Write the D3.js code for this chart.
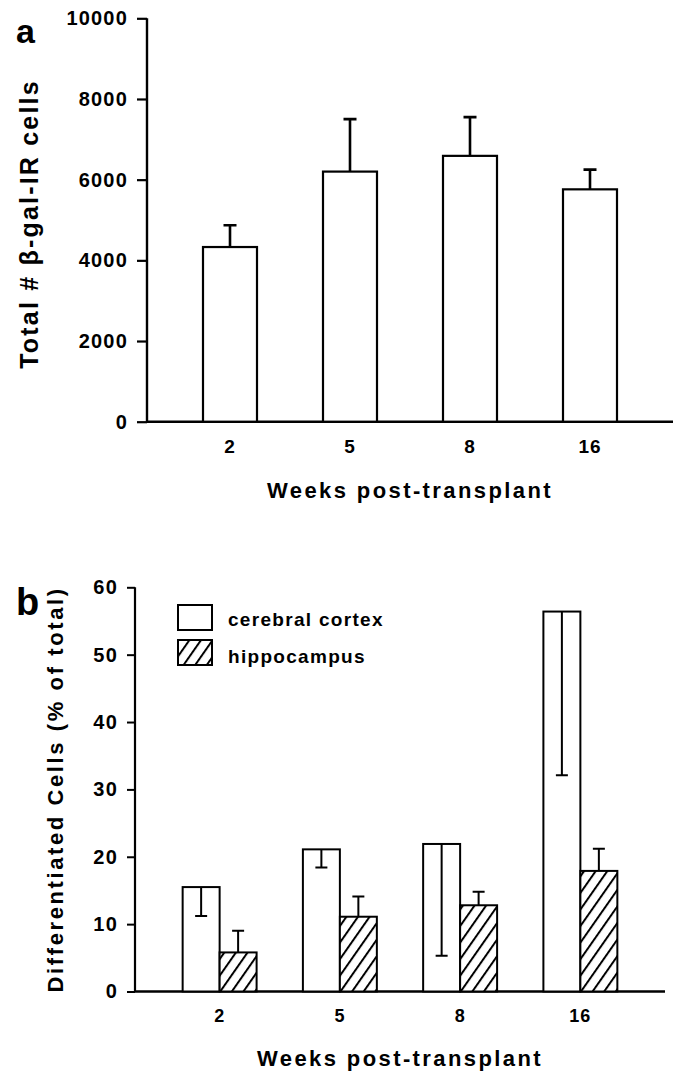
<!DOCTYPE html>
<html>
<head>
<meta charset="utf-8">
<script src="https://cdn.jsdelivr.net/npm/d3@7"></script>
<style>
  body { margin: 0; background: #fff; }
  svg text { font-family: "Liberation Sans", Arial, sans-serif; font-weight: bold; fill: #000; }
</style>
</head>
<body>
<div id="chart"></div>
<script>
// panel a
const weeks = ["2", "5", "8", "16"];
const totalCells = [4330, 6200, 6590, 5760];
const totalCellsErr = [540, 1300, 960, 490];
const totalTicks = [0, 2000, 4000, 6000, 8000, 10000];

// panel b
const regions = ["cerebral cortex", "hippocampus"];
const cortexPct = [15.5, 21.1, 21.9, 56.4];
const cortexErr = [4.3, 2.7, 16.6, 24.3];
const hippoPct = [5.8, 11.1, 12.8, 17.9];
const hippoErr = [3.2, 3.0, 2.0, 3.3];
const pctTicks = [0, 10, 20, 30, 40, 50, 60];

const svg = d3.select("#chart").append("svg")
  .attr("width", 676)
  .attr("height", 1075);

const defs = svg.append("defs");
const hatch = defs.append("pattern")
  .attr("id", "hatch")
  .attr("patternUnits", "userSpaceOnUse")
  .attr("width", 9.5)
  .attr("height", 9.5)
  .attr("patternTransform", "rotate(35)");
hatch.append("rect").attr("width", 9.5).attr("height", 9.5).attr("fill", "#fff");
hatch.append("line")
  .attr("x1", 1).attr("y1", 0).attr("x2", 1).attr("y2", 9.5)
  .attr("stroke", "#000").attr("stroke-width", 2);

function styleAxis(g, width) {
  g.selectAll("path").remove();
  g.selectAll("line").attr("stroke", "#000").attr("stroke-width", width);
}

// ---------- panel a ----------
const xA = d3.scaleBand()
  .domain(weeks)
  .range([170, 650])
  .paddingInner(0.55)
  .paddingOuter(0.275);

const yA = d3.scaleLinear()
  .domain([0, 10000])
  .range([421.7, 18.3]);

const gA = svg.append("g");

gA.append("g")
  .attr("transform", "translate(147,0)")
  .call(d3.axisLeft(yA).tickValues(totalTicks).tickFormat(d3.format("d")).tickSize(10).tickPadding(9))
  .call((g) => styleAxis(g, 2.2))
  .selectAll("text")
  .style("font-size", "20px")
  .style("letter-spacing", "1.2px");

gA.append("line")
  .attr("x1", 147).attr("x2", 147)
  .attr("y1", yA(0)).attr("y2", yA(10000))
  .attr("stroke", "#000").attr("stroke-width", 2.4);

gA.append("line")
  .attr("x1", 147).attr("x2", 673)
  .attr("y1", yA(0)).attr("y2", yA(0))
  .attr("stroke", "#000").attr("stroke-width", 2.4);

gA.append("g")
  .attr("transform", `translate(0,${yA(0)})`)
  .call(d3.axisBottom(xA).tickSize(0).tickPadding(18))
  .call((g) => styleAxis(g, 0))
  .selectAll("text")
  .style("font-size", "19px")
  .style("letter-spacing", "1px");

gA.selectAll(".errA")
  .data(weeks)
  .enter()
  .append("path")
  .attr("class", "errA")
  .attr("fill", "none")
  .attr("stroke", "#000")
  .attr("stroke-width", 2.6)
  .attr("d", (d, i) => {
    const cx = xA(d) + xA.bandwidth() / 2;
    const top = yA(totalCells[i] + totalCellsErr[i]);
    return `M${cx},${yA(totalCells[i])}V${top}M${cx - 6.5},${top}H${cx + 6.5}`;
  });

gA.selectAll(".barA")
  .data(weeks)
  .enter()
  .append("rect")
  .attr("class", "barA")
  .attr("x", (d) => xA(d))
  .attr("y", (d, i) => yA(totalCells[i]))
  .attr("width", xA.bandwidth())
  .attr("height", (d, i) => yA(0) - yA(totalCells[i]))
  .attr("fill", "#fff")
  .attr("stroke", "#000")
  .attr("stroke-width", 2.2);

gA.append("text")
  .attr("transform", `translate(38,${(yA(0) + yA(10000)) / 2 + 4}) rotate(-90)`)
  .attr("text-anchor", "middle")
  .style("font-size", "25px")
  .style("letter-spacing", "2.2px")
  .text("Total # β-gal-IR cells");

gA.append("text")
  .attr("x", 410)
  .attr("y", 498)
  .attr("text-anchor", "middle")
  .style("font-size", "22px")
  .style("letter-spacing", "2.4px")
  .text("Weeks post-transplant");

gA.append("text")
  .attr("x", 16)
  .attr("y", 43)
  .style("font-size", "34px")
  .text("a");

// ---------- panel b ----------
const xB = d3.scaleBand()
  .domain(weeks)
  .range([159.5, 640.5])
  .paddingInner(0.385)
  .paddingOuter(0.1925);

const xSub = d3.scaleBand()
  .domain(regions)
  .range([0, xB.bandwidth()]);

const yB = d3.scaleLinear()
  .domain([0, 60])
  .range([991.5, 587.3]);

const gB = svg.append("g");

gB.append("g")
  .attr("transform", "translate(135,0)")
  .call(d3.axisLeft(yB).tickValues(pctTicks).tickSize(8).tickPadding(9))
  .call((g) => styleAxis(g, 2))
  .selectAll("text")
  .style("font-size", "20px")
  .style("letter-spacing", "1.2px");

gB.append("line")
  .attr("x1", 135).attr("x2", 135)
  .attr("y1", yB(0)).attr("y2", yB(60))
  .attr("stroke", "#000").attr("stroke-width", 2.2);

gB.append("line")
  .attr("x1", 135).attr("x2", 665)
  .attr("y1", yB(0)).attr("y2", yB(0))
  .attr("stroke", "#000").attr("stroke-width", 2.4);

gB.append("g")
  .attr("transform", `translate(0,${yB(0)})`)
  .call(d3.axisBottom(xB).tickSize(0).tickPadding(18))
  .call((g) => styleAxis(g, 0))
  .selectAll("text")
  .style("font-size", "18px")
  .style("letter-spacing", "1px");

const rowsB = weeks.map((w, i) => ({
  week: w,
  items: [
    { key: regions[0], v: cortexPct[i], e: cortexErr[i], fill: "#fff", dir: -1 },
    { key: regions[1], v: hippoPct[i], e: hippoErr[i], fill: "url(#hatch)", dir: 1 }
  ]
}));

const groups = gB.selectAll(".grp")
  .data(rowsB)
  .enter()
  .append("g")
  .attr("class", "grp")
  .attr("transform", (d) => `translate(${xB(d.week)},0)`);

groups.selectAll("rect")
  .data((d) => d.items)
  .enter()
  .append("rect")
  .attr("x", (d) => xSub(d.key))
  .attr("y", (d) => yB(d.v))
  .attr("width", xSub.bandwidth())
  .attr("height", (d) => yB(0) - yB(d.v))
  .attr("fill", (d) => d.fill)
  .attr("stroke", "#000")
  .attr("stroke-width", 2);

groups.selectAll(".errB")
  .data((d) => d.items)
  .enter()
  .append("path")
  .attr("class", "errB")
  .attr("fill", "none")
  .attr("stroke", "#000")
  .attr("stroke-width", 2)
  .attr("d", (d) => {
    const cx = xSub(d.key) + xSub.bandwidth() / 2;
    const end = yB(d.v + d.dir * d.e);
    return `M${cx},${yB(d.v)}V${end}M${cx - 6},${end}H${cx + 6}`;
  });

// legend
const legend = gB.append("g").attr("transform", "translate(178,605)");
legend.selectAll("rect")
  .data(regions)
  .enter()
  .append("rect")
  .attr("x", 0)
  .attr("y", (d, i) => i * 35)
  .attr("width", 34)
  .attr("height", 25)
  .attr("fill", (d, i) => (i === 0 ? "#fff" : "url(#hatch)"))
  .attr("stroke", "#000")
  .attr("stroke-width", 2);
legend.selectAll("text")
  .data(regions)
  .enter()
  .append("text")
  .attr("x", 50)
  .attr("y", (d, i) => 21 + i * 37)
  .style("font-size", "19px")
  .style("letter-spacing", "1.3px")
  .text((d) => d);

gB.append("text")
  .attr("transform", `translate(63,${(yB(0) + yB(60)) / 2}) rotate(-90)`)
  .attr("text-anchor", "middle")
  .style("font-size", "22px")
  .style("letter-spacing", "2.6px")
  .text("Differentiated Cells (% of total)");

gB.append("text")
  .attr("x", 400)
  .attr("y", 1066)
  .attr("text-anchor", "middle")
  .style("font-size", "22px")
  .style("letter-spacing", "2.4px")
  .text("Weeks post-transplant");

gB.append("text")
  .attr("x", 16)
  .attr("y", 615)
  .style("font-size", "38px")
  .text("b");
</script>
</body>
</html>
